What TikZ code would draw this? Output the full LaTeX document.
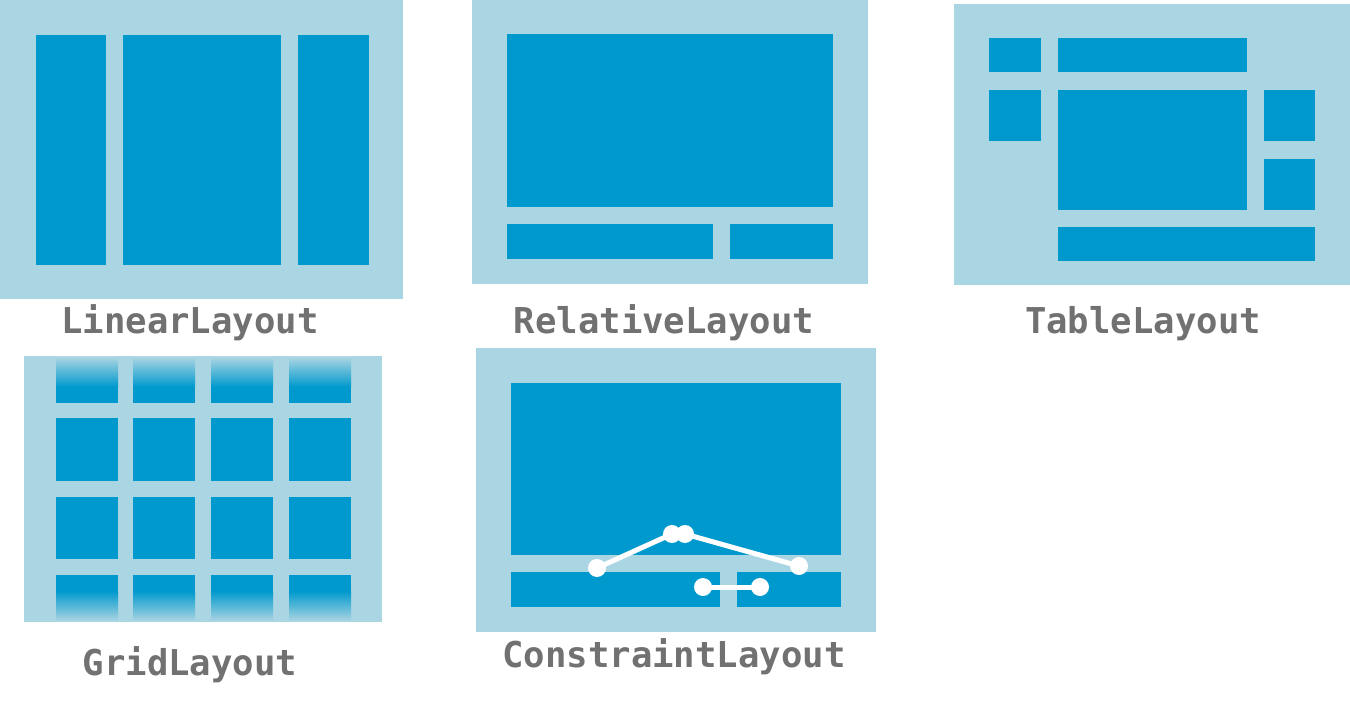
\documentclass[tikz,border=0pt]{standalone}
\usepackage{fontspec}
\setmonofont{DejaVu Sans Mono}
\definecolor{panelbg}{HTML}{AAD5E2}
\definecolor{cell}{HTML}{0099CD}
\definecolor{cellmid}{HTML}{00A9D9}
\definecolor{labelgray}{HTML}{717171}
\begin{document}
\begin{tikzpicture}[x=1pt,y=-1pt,
  panel/.style={fill=panelbg},
  cellbox/.style={fill=cell},
  lbl/.style={anchor=base,inner sep=0pt,text=labelgray,font=\ttfamily\bfseries\fontsize{35.6}{40}\selectfont},
  dot/.style={circle,fill=white,draw=none,minimum size=18pt,inner sep=0pt},
  link/.style={draw=white,line width=5pt}]
\useasboundingbox (0,0) rectangle (1350,708);
\fill[white] (0,0) rectangle (1350,708);
% LinearLayout
\fill[panel] (0,0) rectangle (403,299);
\fill[cellbox] (36,35) rectangle (106,265);
\fill[cellbox] (123,35) rectangle (281,265);
\fill[cellbox] (298,35) rectangle (369,265);
\node[lbl] (linear) at (190,334) {LinearLayout};
% RelativeLayout
\fill[panel] (472,0) rectangle (868,284);
\fill[cellbox] (507,34) rectangle (833,207);
\fill[cellbox] (507,224) rectangle (713,259);
\fill[cellbox] (730,224) rectangle (833,259);
\node[lbl] (relative) at (664,334) {RelativeLayout};
% TableLayout
\fill[panel] (954,4) rectangle (1350,285);
\fill[cellbox] (989,38) rectangle (1041,72);
\fill[cellbox] (1058,38) rectangle (1247,72);
\fill[cellbox] (989,90) rectangle (1041,141);
\fill[cellbox] (1058,90) rectangle (1247,210);
\fill[cellbox] (1264,90) rectangle (1315,141);
\fill[cellbox] (1264,159) rectangle (1315,210);
\fill[cellbox] (1058,227) rectangle (1315,261);
\node[lbl] (table) at (1143,334) {TableLayout};
% GridLayout
\fill[panel] (24,356) rectangle (382,622);
\foreach \xa/\xb in {56/118,133/195,211/273,289/351}{
  \fill[cellbox] (\xa,386) rectangle (\xb,403);
  \shade[top color=panelbg,middle color=cellmid,bottom color=cell] (\xa,357) rectangle (\xb,387);
  \fill[cellbox] (\xa,418) rectangle (\xb,481);
  \fill[cellbox] (\xa,497) rectangle (\xb,559);
  \fill[cellbox] (\xa,575) rectangle (\xb,592);
  \shade[top color=cell,middle color=cellmid,bottom color=panelbg] (\xa,591) rectangle (\xb,621);
}
\node[lbl] (grid) at (190,675) {GridLayout};
% ConstraintLayout
\fill[panel] (476,348) rectangle (876,632);
\fill[cellbox] (511,383) rectangle (841,555);
\fill[cellbox] (511,572) rectangle (720,607);
\fill[cellbox] (737,572) rectangle (841,607);
\node[dot] (c1) at (597,568) {};
\node[dot] (c2) at (672,534) {};
\node[dot] (c3) at (685,534) {};
\node[dot] (c4) at (799,566) {};
\node[dot] (c5) at (703,587) {};
\node[dot] (c6) at (760,587) {};
\draw[link] (c1.center) -- (c2.center);
\draw[link] (c3.center) -- (c4.center);
\draw[link] (c5.center) -- (c6.center);
\node[lbl] (constraint) at (674,667) {ConstraintLayout};
\end{tikzpicture}
\end{document}
